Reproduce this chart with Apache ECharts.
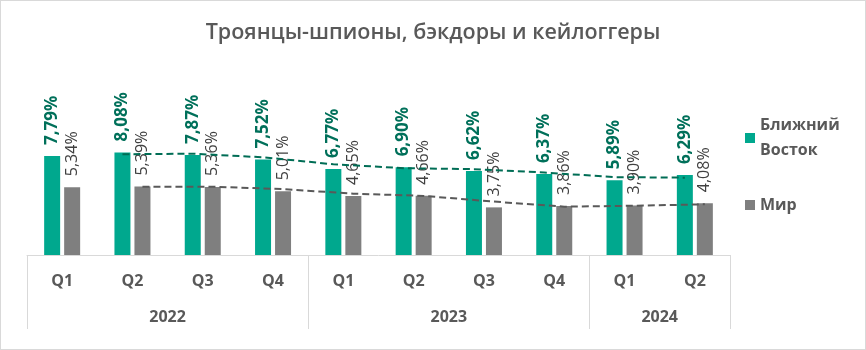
<!DOCTYPE html>
<html><head><meta charset="utf-8">
<script src="https://cdn.jsdelivr.net/npm/echarts@6/dist/echarts.min.js"></script>
<style>
html,body{margin:0;padding:0;background:#fff;}
#wrap{width:864px;height:348px;border:1px solid #d9d9d9;}
#c{width:864px;height:348px;}
</style></head>
<body><div id="wrap"><div id="c"></div></div>
<script>
const quarters = ['Q1','Q2','Q3','Q4','Q1','Q2','Q3','Q4','Q1','Q2'];
const years = ['2022','2023','2024'];
const quartersPerYear = [4,4,2];
const middleEast = [7.79,8.08,7.87,7.52,6.77,6.90,6.62,6.37,5.89,6.29];
const world = [5.34,5.39,5.36,5.01,4.65,4.66,3.75,3.86,3.90,4.08];
const seriesNames = ['Ближний Восток','Мир'];
const titleText = 'Троянцы-шпионы, бэкдоры и кейлоггеры';

const FONT = '"Open Sans", "Noto Sans", sans-serif';
const chart = echarts.init(document.getElementById('c'));
const gridLeft = 26, gridRight = 135;
const catWidth = (864 - gridLeft - gridRight) / quarters.length;
const barW = 16, barGapPx = 4;
const off = (barW + barGapPx) / 2 / catWidth;

// year boundaries and centers (in quarter units)
const bounds = [0]; quartersPerYear.forEach(n => bounds.push(bounds[bounds.length-1] + n));
const centers = years.map((y,i) => (bounds[i] + bounds[i+1]) / 2);
const yearAt = {}; centers.forEach((c,i) => yearAt[c] = years[i]);

// Excel-style moving average trendline (period 2)
function movingAvg(arr, shift) {
  const out = [];
  for (let i = 1; i < arr.length; i++) out.push([i + 0.5 + shift, (arr[i-1] + arr[i]) / 2]);
  return out;
}
const fmt = v => v.toFixed(2).replace('.', ',') + '%';

chart.setOption({
  animation: false,
  title: {text: titleText, left: 'center', top: 16,
    textStyle: {fontFamily: FONT, fontSize: 21.5, fontWeight: 600, color: '#595959'}},
  legend: {
    orient: 'vertical', left: 744, top: 99.5, padding: 0, itemGap: 17,
    icon: 'rect', itemWidth: 10, itemHeight: 10,
    formatter: n => n.replace(' ', '\n'),
    textStyle: {fontFamily: FONT, fontSize: 16, fontWeight: 'bold', color: '#595959', lineHeight: 25},
    data: [{name: seriesNames[0], textStyle: {padding: [25,0,0,0]}}, {name: seriesNames[1]}]
  },
  grid: {left: gridLeft, right: gridRight, top: 127, bottom: 94},
  xAxis: [
    {type: 'category', data: quarters, position: 'bottom',
      axisLine: {show: true, lineStyle: {color: '#d9d9d9', width: 1}},
      axisTick: {show: false},
      axisLabel: {margin: 18, interval: 0, fontFamily: FONT, fontSize: 16, fontWeight: 'bold', color: '#595959'}},
    {type: 'value', min: 0, max: quarters.length, position: 'bottom',
      axisLine: {show: false}, splitLine: {show: false},
      axisTick: {show: true, customValues: bounds, length: 74, lineStyle: {color: '#d9d9d9', width: 1}},
      axisLabel: {customValues: centers, margin: 54, formatter: v => yearAt[v] || '',
        fontFamily: FONT, fontSize: 16, fontWeight: 'bold', color: '#595959'}}
  ],
  yAxis: {type: 'value', min: 0, max: 10, show: false},
  series: [
    {name: seriesNames[0], type: 'bar', data: middleEast, barWidth: barW, barGap: (barGapPx / barW * 100) + '%',
      itemStyle: {color: '#00A88E'},
      label: {show: true, position: 'top', rotate: 90, align: 'left', verticalAlign: 'middle', distance: 11,
        formatter: p => fmt(p.value), fontFamily: FONT, fontSize: 17, fontWeight: 'bold', color: '#00705A'}},
    {name: seriesNames[1], type: 'bar', data: world, barWidth: barW,
      itemStyle: {color: '#7F7F7F'},
      label: {show: true, position: 'top', rotate: 90, align: 'left', verticalAlign: 'middle', distance: 11,
        formatter: p => fmt(p.value), fontFamily: FONT, fontSize: 16, color: '#404040'}},
    {name: 'trend1', type: 'line', xAxisIndex: 1, data: movingAvg(middleEast, -off), symbol: 'none', silent: true,
      lineStyle: {color: '#006D55', width: 2, type: [7,4]}, z: 5},
    {name: 'trend2', type: 'line', xAxisIndex: 1, data: movingAvg(world, off), symbol: 'none', silent: true,
      lineStyle: {color: '#595959', width: 2, type: [7,4]}, z: 5}
  ]
});
</script></body></html>
